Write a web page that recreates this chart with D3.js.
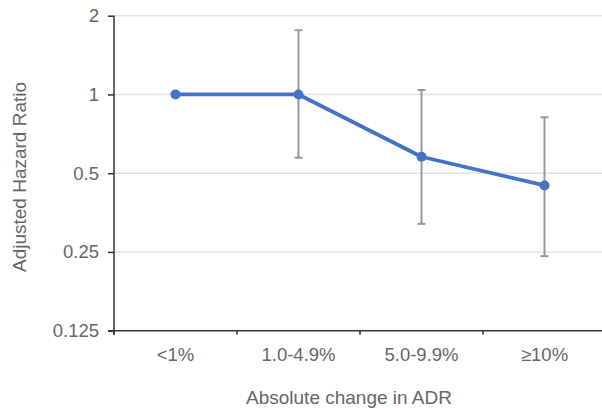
<!DOCTYPE html>
<html>
<head>
<meta charset="utf-8">
<script src="https://cdn.jsdelivr.net/npm/d3@7"></script>
<style>
  html, body { margin: 0; padding: 0; background: #fff; }
  svg { display: block; }
  text { font-family: "Liberation Sans", Arial, sans-serif; fill: #666; }
</style>
</head>
<body>
<svg id="chart" width="602" height="408"></svg>
<script>
const categories = ["<1%", "1.0-4.9%", "5.0-9.9%", "\u226510%"];
const hazardRatio = [1.0, 1.0, 0.578, 0.449];
const lowerCI = [null, 0.573, 0.320, 0.241];
const upperCI = [null, 1.76, 1.04, 0.818];
const yTicks = [0.125, 0.25, 0.5, 1, 2];
const yTickLabels = ["0.125", "0.25", "0.5", "1", "2"];
const xTitle = "Absolute change in ADR";
const yTitle = "Adjusted Hazard Ratio";

(function () {
const svg = d3.select("#chart");
const mLeft = 114, mRight = 606, mTop = 15.7, mBottom = 330.7;

const x = d3.scaleBand().domain(categories).range([mLeft, mRight]);
const y = d3.scaleLog().base(2).domain([0.125, 2]).range([mBottom, mTop]);

// gridlines
svg.append("g").selectAll("line").data(yTicks.filter(t => t > 0.125)).join("line")
  .attr("x1", mLeft).attr("x2", 602)
  .attr("y1", d => y(d)).attr("y2", d => y(d))
  .attr("stroke", "#e3e3e3").attr("stroke-width", 1.5);

// y axis
const yAxis = d3.axisLeft(y).tickValues(yTicks)
  .tickFormat((d, i) => yTickLabels[i]).tickSize(6).tickPadding(9);
const gy = svg.append("g").attr("transform", `translate(${mLeft},0)`).call(yAxis);
gy.select(".domain").attr("stroke", "#333").attr("stroke-width", 1.5).attr("d", `M0,${mTop}V${mBottom + 4}`);
gy.selectAll(".tick line").attr("stroke", "#333").attr("stroke-width", 1.5);
gy.selectAll(".tick text").style("font-size", "18.5px").attr("fill", "#666")
  .style("font-family", '"Liberation Sans", Arial, sans-serif');

// x axis
const xAxis = d3.axisBottom(x).tickSize(0).tickPadding(0);
const gx = svg.append("g").attr("transform", `translate(0,${mBottom})`).call(xAxis);
gx.select(".domain").attr("stroke", "#333").attr("stroke-width", 1.5).attr("d", `M${mLeft - 6},0H${mRight}`);
gx.selectAll(".tick text").style("font-size", "18.5px").attr("fill", "#666")
  .style("font-family", '"Liberation Sans", Arial, sans-serif')
  .attr("y", 30).attr("dy", "0");
// category boundary ticks
const bounds = categories.map(c => x(c)).concat([mRight]);
svg.append("g").selectAll("line").data(bounds).join("line")
  .attr("x1", d => d).attr("x2", d => d)
  .attr("y1", mBottom).attr("y2", mBottom + 4)
  .attr("stroke", "#333").attr("stroke-width", 1.5);

const cx = c => x(c) + x.bandwidth() / 2;

// error bars
const eb = categories.map((c, i) => ({c, lo: lowerCI[i], hi: upperCI[i]})).filter(d => d.lo != null);
const ge = svg.append("g").attr("stroke", "#999").attr("stroke-width", 2);
ge.selectAll(".v").data(eb).join("line")
  .attr("x1", d => cx(d.c)).attr("x2", d => cx(d.c))
  .attr("y1", d => y(d.hi)).attr("y2", d => y(d.lo));
ge.selectAll(".t").data(eb).join("line")
  .attr("x1", d => cx(d.c) - 4).attr("x2", d => cx(d.c) + 4)
  .attr("y1", d => y(d.hi)).attr("y2", d => y(d.hi));
ge.selectAll(".b").data(eb).join("line")
  .attr("x1", d => cx(d.c) - 4).attr("x2", d => cx(d.c) + 4)
  .attr("y1", d => y(d.lo)).attr("y2", d => y(d.lo));

// line
const pts = categories.map((c, i) => [cx(c), y(hazardRatio[i])]);
svg.append("path").datum(pts)
  .attr("d", d3.line())
  .attr("fill", "none").attr("stroke", "#4472C4").attr("stroke-width", 3.8)
  .attr("stroke-linejoin", "round");
svg.append("g").selectAll("circle").data(pts).join("circle")
  .attr("cx", d => d[0]).attr("cy", d => d[1]).attr("r", 5)
  .attr("fill", "#4472C4");

// titles
svg.append("text").attr("x", 349).attr("y", 397).attr("text-anchor", "middle")
  .attr("dominant-baseline", "central").style("font-size", "19px").text(xTitle);
svg.append("text").attr("transform", "translate(19,177) rotate(-90)")
  .attr("text-anchor", "middle").attr("dominant-baseline", "central")
  .style("font-size", "19px").text(yTitle);
})();
</script>
</body>
</html>
